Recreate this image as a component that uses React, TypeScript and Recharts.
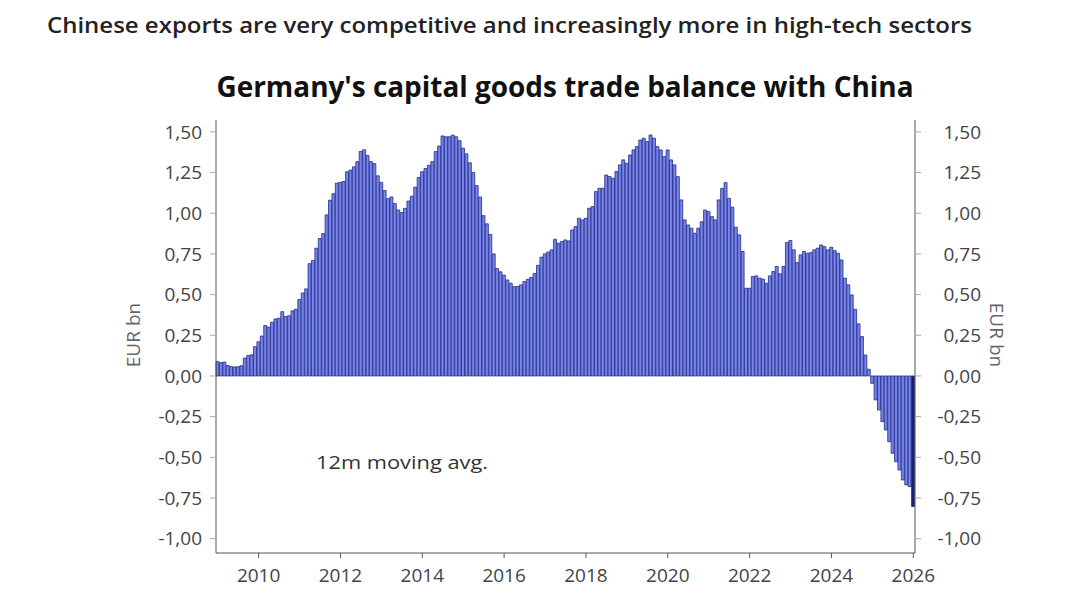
import { ComposedChart, Bar, Line, XAxis, YAxis, Cell } from 'recharts'

// 12m moving average, EUR bn, one array per year (Jan..Dec)
const YEARS = [2009, 2010, 2011, 2012, 2013, 2014, 2015, 2016, 2017, 2018, 2019, 2020, 2021, 2022, 2023, 2024, 2025, 2026]

const BAL_2009 = [0.088, 0.082, 0.085, 0.065, 0.058, 0.055, 0.057, 0.063, 0.11, 0.125, 0.13, 0.18]
const BAL_2010 = [0.21, 0.245, 0.31, 0.3, 0.33, 0.35, 0.355, 0.395, 0.365, 0.37, 0.4, 0.41]
const BAL_2011 = [0.47, 0.51, 0.535, 0.69, 0.71, 0.785, 0.845, 0.875, 0.99, 1.08, 1.12, 1.185]
const BAL_2012 = [1.19, 1.195, 1.255, 1.265, 1.285, 1.317, 1.38, 1.39, 1.355, 1.317, 1.305, 1.23]
const BAL_2013 = [1.19, 1.14, 1.09, 1.1, 1.06, 1.02, 1.004, 1.03, 1.075, 1.105, 1.16, 1.22]
const BAL_2014 = [1.255, 1.275, 1.295, 1.317, 1.379, 1.413, 1.475, 1.47, 1.47, 1.48, 1.47, 1.446]
const BAL_2015 = [1.4, 1.365, 1.31, 1.25, 1.17, 1.1, 0.985, 0.935, 0.87, 0.75, 0.66, 0.64]
const BAL_2016 = [0.62, 0.59, 0.57, 0.549, 0.55, 0.56, 0.58, 0.594, 0.606, 0.63, 0.68, 0.73]
const BAL_2017 = [0.75, 0.762, 0.775, 0.84, 0.815, 0.826, 0.836, 0.83, 0.897, 0.918, 0.969, 0.959]
const BAL_2018 = [0.969, 1.031, 1.041, 1.133, 1.153, 1.153, 1.235, 1.225, 1.215, 1.256, 1.297, 1.328]
const BAL_2019 = [1.307, 1.358, 1.389, 1.41, 1.45, 1.461, 1.44, 1.481, 1.461, 1.41, 1.389, 1.348]
const BAL_2020 = [1.389, 1.328, 1.297, 1.225, 1.082, 0.959, 0.928, 0.908, 0.877, 0.908, 0.948, 1.02]
const BAL_2021 = [1.01, 0.979, 0.959, 1.082, 1.153, 1.188, 1.092, 1.037, 0.914, 0.867, 0.765, 0.539]
const BAL_2022 = [0.539, 0.611, 0.615, 0.601, 0.595, 0.57, 0.615, 0.642, 0.673, 0.628, 0.673, 0.82]
const BAL_2023 = [0.832, 0.775, 0.697, 0.744, 0.765, 0.754, 0.758, 0.775, 0.785, 0.805, 0.795, 0.775]
const BAL_2024 = [0.791, 0.77, 0.754, 0.713, 0.601, 0.56, 0.498, 0.41, 0.32, 0.242, 0.129, 0.041]
const BAL_2025 = [-0.045, -0.147, -0.209, -0.281, -0.332, -0.404, -0.475, -0.527, -0.578, -0.639, -0.67, -0.68]
const BAL_2026 = [-0.803]

const SERIES = [
  BAL_2009, BAL_2010, BAL_2011, BAL_2012, BAL_2013, BAL_2014, BAL_2015, BAL_2016, BAL_2017,
  BAL_2018, BAL_2019, BAL_2020, BAL_2021, BAL_2022, BAL_2023, BAL_2024, BAL_2025, BAL_2026,
]

const X_TICKS = ['2010-01', '2012-01', '2014-01', '2016-01', '2018-01', '2020-01', '2022-01', '2024-01', '2026-01']
const Y_TICKS = [-1, -0.75, -0.5, -0.25, 0, 0.25, 0.5, 0.75, 1, 1.25, 1.5]
const Y_DOMAIN = [-1.088, 1.573]

const data = SERIES.flatMap((vals, k) =>
  vals.map((v, m) => ({ month: `${YEARS[k]}-${String(m + 1).padStart(2, '0')}`, value: v }))
)

const fmt = (v: number) => v.toFixed(2).replace('.', ',')

const FONT = '"Open Sans", sans-serif'
const AXIS = '#555'

function RightTick(props: any) {
  const { x, y, payload } = props
  return (
    <text x={x + 58} y={y} dy="0.355em" textAnchor="end" fontSize={19} fill="#444" fontFamily={FONT}>
      {fmt(payload.value)}
    </text>
  )
}

export default function App() {
  return (
    <div style={{ position: 'absolute', left: 0, top: 0, width: 1074, height: 595, background: '#fff' }}>
      <ComposedChart
        width={1074}
        height={595}
        data={data}
        margin={{ top: 120, right: 99, bottom: 12, left: 156 }}
        barCategoryGap={0}
        style={{ fontFamily: FONT }}
      >
        <XAxis
          dataKey="month"
          ticks={X_TICKS}
          interval={0}
          tickFormatter={(v: string) => v.slice(0, 4)}
          height={30}
          axisLine={{ stroke: AXIS }}
          tickLine={{ stroke: AXIS }}
          tickSize={5}
          tickMargin={11}
          tick={{ fill: '#444', fontSize: 19 }}
        />
        <YAxis
          yAxisId="left"
          width={60}
          domain={Y_DOMAIN}
          ticks={Y_TICKS}
          tickFormatter={fmt}
          axisLine={{ stroke: AXIS }}
          tickLine={{ stroke: '#aaa' }}
          tickSize={6}
          tickMargin={8}
          tick={{ fill: '#444', fontSize: 19 }}
        />
        <YAxis
          yAxisId="right"
          orientation="right"
          width={60}
          domain={Y_DOMAIN}
          ticks={Y_TICKS}
          axisLine={{ stroke: AXIS }}
          tickLine={{ stroke: '#aaa' }}
          tickSize={6}
          tickMargin={2}
          tick={RightTick}
        />
        <Bar yAxisId="left" dataKey="value" stroke="#26298a" strokeWidth={0.8} isAnimationActive={false}>
          {data.map((d, i) => (
            <Cell key={d.month} fill={i === data.length - 1 ? '#1c1f6e' : '#7585e8'} />
          ))}
        </Bar>
        {/* invisible twin so the right axis gets its ticks */}
        <Line yAxisId="right" dataKey="value" stroke="none" dot={false} activeDot={false} isAnimationActive={false} />
      </ComposedChart>
      <svg width={1074} height={595} style={{ position: 'absolute', left: 0, top: 0, pointerEvents: 'none' }} fontFamily={FONT}>
        <text x={47} y={33} fontSize={22} fontWeight={600} fill="#222" textLength={925} lengthAdjust="spacingAndGlyphs">
          Chinese exports are very competitive and increasingly more in high-tech sectors
        </text>
        <text x={565} y={97} textAnchor="middle" fontSize={29} fontWeight={700} fill="#111" textLength={697} lengthAdjust="spacingAndGlyphs">
          Germany's capital goods trade balance with China
        </text>
        <text x={316} y={469} fontSize={19} fill="#333" textLength={172} lengthAdjust="spacingAndGlyphs">
          12m moving avg.
        </text>
        <text x={133} y={335} transform="rotate(-90 133 335)" textAnchor="middle" dy="0.35em" fontSize={19} fill="#666">
          EUR bn
        </text>
        <text x={997} y={335} transform="rotate(90 997 335)" textAnchor="middle" dy="0.35em" fontSize={19} fill="#666">
          EUR bn
        </text>
      </svg>
    </div>
  )
}
